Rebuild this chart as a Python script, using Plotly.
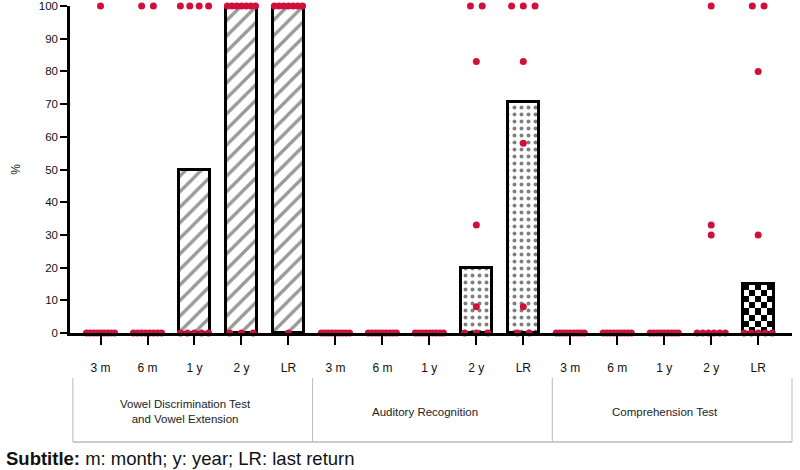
import numpy as np
import plotly.graph_objects as go

# ---------------- data ----------------
time_labels = ["3 m", "6 m", "1 y", "2 y", "LR"]
group_names = ["Vowel Discrimination Test<br>and Vowel Extension",
               "Auditory Recognition",
               "Comprehension Test"]

bar_vowel = [0, 0, 50, 100, 100]
bar_auditory = [0, 0, 0, 20, 70.5]
bar_comprehension = [0, 0, 0, 0, 15]

pts_vowel = [
    [100] + [0] * 9,
    [100, 100] + [0] * 8,
    [100] * 4 + [0] * 5,
    [100] * 7 + [0] * 3,
    [100] * 7 + [0],
]
pts_auditory = [
    [0] * 9,
    [0] * 9,
    [0] * 9,
    [100, 100, 83, 33, 8, 0, 0, 0],
    [100, 100, 100, 83, 58, 8, 0, 0],
]
pts_comprehension = [
    [0] * 9,
    [0] * 9,
    [0] * 9,
    [100, 33, 30, 0, 0, 0, 0, 0, 0],
    [100, 100, 80, 30, 0, 0, 0, 0, 0],
]

subtitle_bold = "Subtitle:"
subtitle_rest = " m: month; y: year; LR: last return"

# ---------------- build ----------------
FONT = "Liberation Sans, Arial, sans-serif"
RED = "#d0103a"
BAR_W = 0.66

n_t = len(time_labels)
tick_text = time_labels * len(group_names)
tick_vals = list(range(len(tick_text)))

fig = go.Figure()

# checkerboard fill for the comprehension bars (drawn under the bar outline)
nx, ny = 5, 8
for j, v in enumerate(bar_comprehension):
    if v > 0:
        idx = 2 * n_t + j
        z = np.indices((ny, nx)).sum(axis=0) % 2
        fig.add_trace(go.Heatmap(
            z=z, x0=idx - BAR_W / 2 + BAR_W / nx / 2, dx=BAR_W / nx,
            y0=v / ny / 2, dy=v / ny,
            colorscale=[[0, "white"], [1, "black"]], showscale=False,
            hoverinfo="skip"))

def add_bars(values, offset, pattern, fill):
    xs = [offset + j for j in range(n_t)]
    ys = [v if v > 0 else None for v in values]
    fig.add_trace(go.Bar(
        x=xs, y=ys, width=BAR_W,
        marker=dict(color=fill, line=dict(color="black", width=3),
                    pattern=pattern),
        showlegend=False, hoverinfo="skip"))

add_bars(bar_vowel, 0,
         dict(shape="/", fgcolor="#333333", bgcolor="white", size=11, solidity=0.3),
         "white")
add_bars(bar_auditory, n_t,
         dict(shape=".", fgcolor="black", bgcolor="white", size=7, solidity=0.25),
         "white")
add_bars(bar_comprehension, 2 * n_t, dict(shape=""), "rgba(0,0,0,0)")

# individual points, spread horizontally where they share a value
px, py = [], []
for g, group in enumerate([pts_vowel, pts_auditory, pts_comprehension]):
    for j, vals in enumerate(group):
        idx = g * n_t + j
        for val in sorted(set(vals)):
            n = vals.count(val)
            step = 0.25 if n <= 1 else min(0.25, 0.6 / (n - 1))
            for k in range(n):
                px.append(idx + (k - (n - 1) / 2) * step)
                py.append(val)
fig.add_trace(go.Scatter(
    x=px, y=py, mode="markers",
    marker=dict(color=RED, size=7, line=dict(width=0)),
    cliponaxis=False, showlegend=False, hoverinfo="skip"))

# table-like group boxes below the axis
x_left, x_right = 0.004, 1.0
y_top, y_bot = -0.1376, -0.333
colw = (x_right - x_left) / len(group_names)
for k in range(len(group_names) + 1):
    xx = x_left + k * colw
    fig.add_shape(type="line", xref="paper", yref="paper",
                  x0=xx, x1=xx, y0=y_top, y1=y_bot,
                  line=dict(color="#bbbbbb", width=1))
fig.add_shape(type="line", xref="paper", yref="paper",
              x0=x_left, x1=x_right, y0=y_bot, y1=y_bot,
              line=dict(color="#bbbbbb", width=1.5))
for k, name in enumerate(group_names):
    fig.add_annotation(xref="paper", yref="paper",
                       x=x_left + (k + 0.5) * colw - 0.01, y=(y_top + y_bot) / 2 - 0.005,
                       xanchor="center", yanchor="middle",
                       text=name, showarrow=False,
                       font=dict(family=FONT, size=11.5, color="#222"))

fig.add_annotation(xref="paper", yref="paper", x=-0.092, y=-0.383,
                   xanchor="left", yanchor="middle",
                   text=f"<b>{subtitle_bold}</b>{subtitle_rest}", showarrow=False,
                   font=dict(family=FONT, size=18.5, color="#111"))

fig.update_layout(
    width=800, height=470,
    margin=dict(l=70, r=8, t=6, b=137, autoexpand=False),
    paper_bgcolor="white", plot_bgcolor="white",
    barmode="overlay", bargap=0,
    font=dict(family=FONT, color="#222"),
    showlegend=False,
)
fig.update_xaxes(
    range=[-0.65, 14.72], tickvals=tick_vals, ticktext=tick_text,
    showline=True, linecolor="black", linewidth=2.5,
    ticks="outside", ticklen=9, tickwidth=2, tickcolor="black",
    ticklabelstandoff=13,
    tickfont=dict(family=FONT, size=12, color="#111"),
    showgrid=False, zeroline=False, fixedrange=True)
fig.update_yaxes(
    range=[0, 100.01], tickvals=list(range(0, 101, 10)),
    ticklabeloverflow="allow",
    showline=True, linecolor="black", linewidth=2.5,
    ticks="outside", ticklen=7, tickwidth=2, tickcolor="black",
    tickfont=dict(family=FONT, size=11.5, color="#111"),
    title=dict(text="%", font=dict(family=FONT, size=12, color="#222"), standoff=16),
    showgrid=False, zeroline=False, fixedrange=True)

fig.write_html("out.html", config={"displayModeBar": False},
               post_script="document.body.style.margin='0';document.body.style.padding='0';")
